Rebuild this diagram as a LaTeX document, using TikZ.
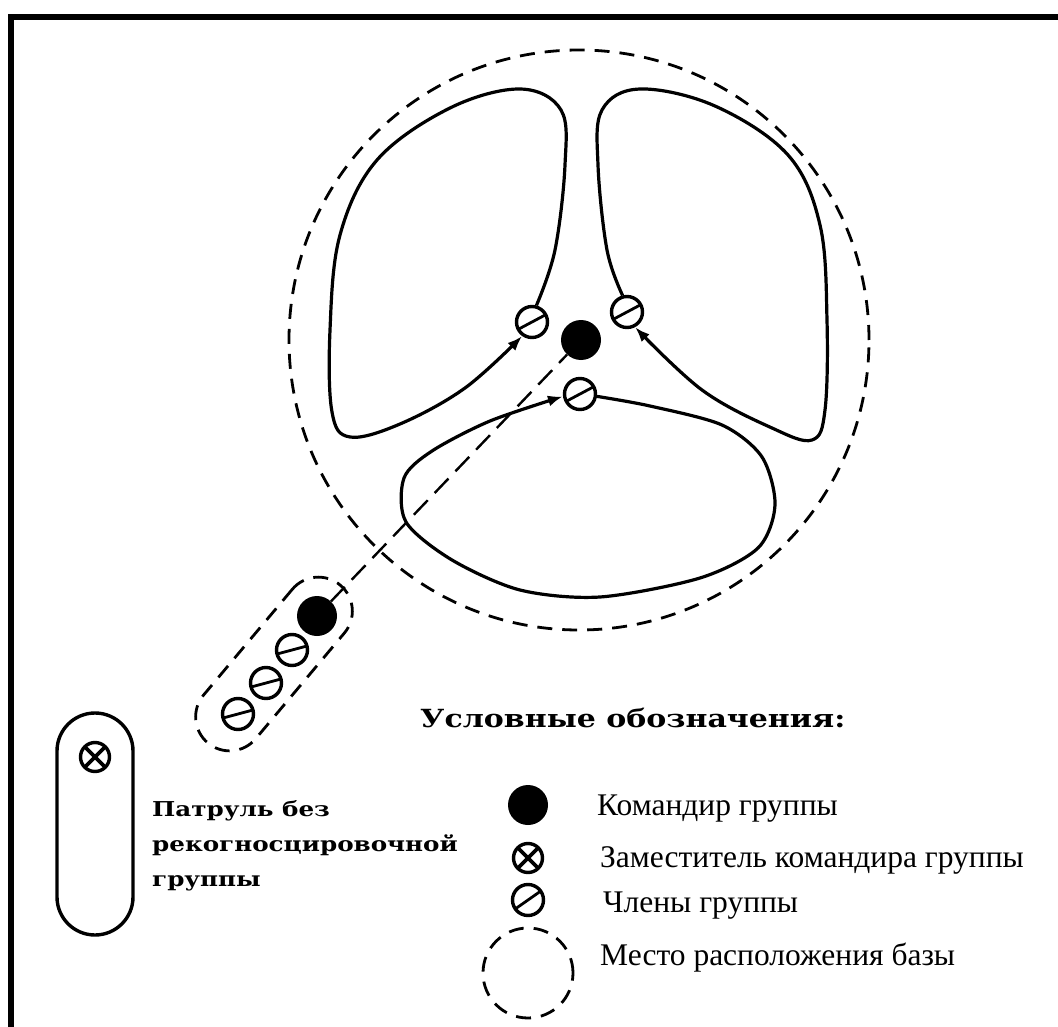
\documentclass[tikz,border=0pt]{standalone}
\usepackage{fontspec}
\setmainfont{Liberation Serif}
\newfontfamily\slabfont[FakeStretch=1.2]{DejaVu Serif}
\usetikzlibrary{arrows.meta,positioning,calc}
\definecolor{ink}{HTML}{000000}

\begin{document}
\begin{tikzpicture}[x=1pt,y=-1pt,
    chief/.style={circle,fill=ink,minimum size=40pt,inner sep=0pt},
    scout/.style={circle,draw=ink,line width=3.4pt,minimum size=31pt,inner sep=0pt,
      path picture={\draw[line width=2.8pt,y=1pt,shift={(path picture bounding box.center)}] (#1+180:18) -- (#1:18);}},
    scout/.default=28,
    deputy/.style={circle,draw=ink,line width=3.4pt,minimum size=29pt,inner sep=0pt,
      path picture={\draw[line width=3.6pt,shift={(path picture bounding box.center)}] (-12,-12) -- (12,12) (-12,12) -- (12,-12);}},
    sweep/.style={line width=3.2pt,draw=ink,line join=round,-{Latex[length=15pt,width=11pt]}},
    camp/.style={draw=ink,line width=2.8pt,dash pattern=on 15pt off 10pt},
    legtxt/.style={anchor=base west,inner sep=0pt,font=\fontsize{31.5}{36}\selectfont},
    headtxt/.style={inner sep=0pt,font=\slabfont\bfseries\fontsize{25}{30}\selectfont}]
  \useasboundingbox (0,0) rectangle (1058,1027);
  % frame
  \draw[line width=5.5pt] (11,1040) -- (11,17) -- (1070,17);

  % base with the group
  \node[camp,circle,minimum size=580pt] (ring) at (579,340) {};
  \node[chief] (cmd) at (581,340) {};
  \node[scout] (m1) at (532,322) {};
  \node[scout] (m2) at (627,312) {};
  \node[scout] (m3) at (580,394) {};

  \draw[sweep] plot[smooth,tension=0.6] coordinates {(m1.75) (555,250) (565,165) (561,110) (520,89) (450,108) (377,160) (340,235) (330,330) (332,412) (350,437) (400,424) (465,388) (m1.235)};
  \draw[sweep] plot[smooth,tension=0.6] coordinates {(m2.105) (607,250) (598,165) (602,110) (640,89) (715,106) (788,155) (820,225) (827,320) (825,410) (812,440) (772,428) (702,390) (m2.-62)};
  \draw[sweep] plot[smooth,tension=0.5] coordinates {(m3.-8) (650,406) (722,425) (762,457) (775,505) (758,548) (700,578) (600,597) (520,590) (452,560) (406,522) (404,478) (432,451) (490,421) (m3.188)};

  % patrol on the way in
  \node[camp,rounded corners=34pt,minimum width=206pt,minimum height=68pt,rotate=50] (patrol) at (274,664) {};
  \node[chief] (pc) at (317,616) {};
  \node[scout=15] (p1) at (292,650) {};
  \node[scout=15] (p2) at (266,683) {};
  \node[scout=15] (p3) at (238,714) {};
  \draw[camp,line width=2.4pt,dash pattern=on 20pt off 10pt] (pc) -- (cmd);

  % patrol without the recon group
  \node[draw=ink,line width=3.4pt,rounded corners=38pt,minimum width=76pt,minimum height=222pt] (pbox) at (95,824) {};
  \node[deputy] (pdep) at (95,757) {};
  \node[headtxt,anchor=north west,align=left,font=\slabfont\bfseries\fontsize{20.5}{35}\selectfont] (ptxt) at (152,800) {Патруль без\\рекогносцировочной\\группы};

  % legend
  \node[headtxt,anchor=base west] (ltitle) at (420,727) {Условные обозначения:};
  \node[chief] (lcmd) at (528,805) {};
  \node[deputy] (ldep) at (528,858) {};
  \node[scout=35] (lmem) at (528,900) {};
  \node[camp,circle,minimum size=90pt] (lcamp) at (528,973) {};
  \node[legtxt] (tcmd) at (597,815) {Командир группы};
  \node[legtxt] (tdep) at (600,867) {Заместитель командира группы};
  \node[legtxt] (tmem) at (603,912) {Члены группы};
  \node[legtxt] (tcamp) at (600,965) {Место расположения базы};
\end{tikzpicture}
\end{document}
